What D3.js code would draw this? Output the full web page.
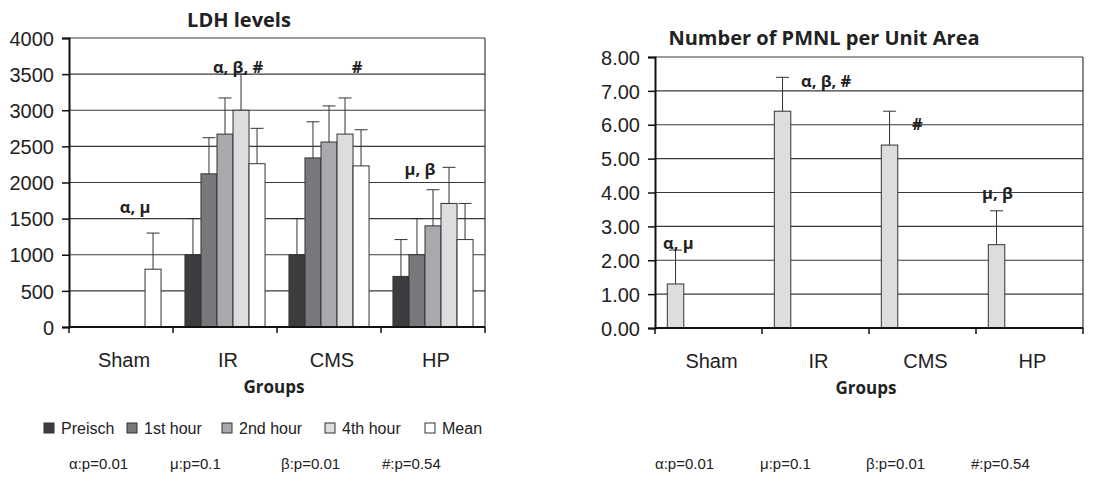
<!DOCTYPE html>
<html>
<head>
<meta charset="utf-8">
<script src="https://cdn.jsdelivr.net/npm/d3@7"></script>
<style>
  body { margin: 0; background: #fff; }
  svg text { font-family: "Liberation Sans", Arial, sans-serif; fill: #222; }
  .bold { font-family: "Open Sans", "Noto Sans", sans-serif !important; font-weight: bold; }
</style>
</head>
<body>
<svg id="chart" width="1101" height="477"></svg>
<script>
// --- Data ---
const groups = ["Sham", "IR", "CMS", "HP"];
const series = ["Preisch", "1st hour", "2nd hour", "4th hour", "Mean"];
const seriesColors = ["#3d3d3f", "#77787c", "#a8a9ac", "#dcdddf", "#ffffff"];

// LDH values per series, in group order (null = no bar)
const ldhPreisch = [null, 1000, 1000, 700];
const ldhHour1 = [null, 2120, 2340, 1000];
const ldh2ndHour = [null, 2670, 2560, 1400];
const ldh4thHour = [null, 3000, 2670, 1710];
const ldhMean = [800, 2260, 2230, 1210];
// top of error bars
const ldhPreischErr = [null, 1500, 1500, 1210];
const ldhHour1Err = [null, 2620, 2840, 1500];
const ldh2ndHourErr = [null, 3170, 3060, 1900];
const ldh4thHourErr = [null, 3500, 3170, 2210];
const ldhMeanErr = [1300, 2750, 2730, 1710];
const ldhTicks = [0, 500, 1000, 1500, 2000, 2500, 3000, 3500, 4000];
const ldhMarks = ["α, μ", "α, β, #", "#", "μ, β"];

const pmnlValues = [1.3, 6.4, 5.4, 2.46];
const pmnlErr = [2.3, 7.4, 6.4, 3.46];
const pmnlTicks = [0, 1, 2, 3, 4, 5, 6, 7, 8];
const pmnlMarks = ["α, μ", "α, β, #", "#", "μ, β"];

const footnotes = ["α:p=0.01", "μ:p=0.1", "β:p=0.01", "#:p=0.54"];

const svg = d3.select("#chart");

function drawChart({ left, right, top, bottom, yMax, ticks, fmt, title, titleX, titleY,
                     rows, marks, markPos, footX }) {
  const g = svg.append("g");
  const x = d3.scaleBand().domain(groups).range([left, right])
    .paddingInner(0.23).paddingOuter(0.115);
  const x1 = d3.scaleBand().domain(series).range([0, x.bandwidth()]);
  const y = d3.scaleLinear().domain([0, yMax]).range([bottom, top]);
  const step = (right - left) / groups.length;

  // gridlines
  g.selectAll("line.grid").data(ticks.slice(1)).join("line")
    .attr("x1", left).attr("x2", right)
    .attr("y1", d => y(d)).attr("y2", d => y(d))
    .attr("stroke", "#3a3a3a").attr("stroke-width", 1.2);
  // right border
  g.append("line").attr("x1", right).attr("x2", right).attr("y1", top).attr("y2", bottom)
    .attr("stroke", "#3a3a3a").attr("stroke-width", 1.2);

  // bars
  rows.forEach(r => {
    const cells = groups.map((grp, i) => ({ grp, v: r.values[i], e: r.err[i] }))
      .filter(d => d.v != null);
    g.selectAll(null).data(cells).join("rect")
      .attr("x", d => x(d.grp) + x1(r.slot))
      .attr("y", d => y(d.v))
      .attr("width", x1.bandwidth())
      .attr("height", d => bottom - y(d.v))
      .attr("fill", r.color).attr("stroke", "#333").attr("stroke-width", 1);
    const cx = d => x(d.grp) + x1(r.slot) + x1.bandwidth() / 2;
    g.selectAll(null).data(cells).join("line")
      .attr("x1", cx).attr("x2", cx)
      .attr("y1", d => y(d.v)).attr("y2", d => y(d.e))
      .attr("stroke", "#333").attr("stroke-width", 1);
    g.selectAll(null).data(cells).join("line")
      .attr("x1", d => cx(d) - 6.5).attr("x2", d => cx(d) + 6.5)
      .attr("y1", d => y(d.e)).attr("y2", d => y(d.e))
      .attr("stroke", "#333").attr("stroke-width", 1);
  });

  // y axis
  const yAxis = g.append("g").attr("transform", `translate(${left},0)`)
    .call(d3.axisLeft(y).tickValues(ticks).tickFormat(fmt).tickSize(7).tickPadding(8));
  yAxis.select(".domain").attr("stroke", "#111").attr("stroke-width", 2);
  yAxis.selectAll(".tick line").attr("stroke", "#111").attr("stroke-width", 1.5);
  yAxis.selectAll(".tick text").attr("font-size", 20).attr("fill", "#222").attr("dy", "0.36em");

  // x axis
  g.append("line").attr("x1", left).attr("x2", right).attr("y1", bottom).attr("y2", bottom)
    .attr("stroke", "#111").attr("stroke-width", 2);
  g.selectAll("line.xt").data(d3.range(groups.length + 1)).join("line")
    .attr("x1", i => left + i * step).attr("x2", i => left + i * step)
    .attr("y1", bottom).attr("y2", bottom + 6)
    .attr("stroke", "#111").attr("stroke-width", 1.5);
  g.selectAll("text.cat").data(groups).join("text")
    .attr("x", d => x(d) + x.bandwidth() / 2 + 3).attr("y", bottom + 40)
    .attr("text-anchor", "middle").attr("font-size", 20).text(d => d);
  g.append("text").attr("class", "bold").attr("x", (left + right) / 2 - 3).attr("y", bottom + 66)
    .attr("text-anchor", "middle").attr("font-size", 17).text("Groups");

  // title
  g.append("text").attr("class", "bold").attr("x", titleX).attr("y", titleY)
    .attr("text-anchor", "middle").attr("font-size", 20).text(title);

  // significance marks
  g.selectAll("text.mark").data(marks).join("text").attr("class", "bold")
    .attr("x", (d, i) => markPos[i][0]).attr("y", (d, i) => markPos[i][1])
    .attr("text-anchor", (d, i) => markPos[i][2])
    .attr("font-size", 16.5).text(d => d);

  // footnotes
  g.selectAll("text.foot").data(footnotes).join("text")
    .attr("x", (d, i) => footX[i]).attr("y", 469)
    .attr("font-size", 15).text(d => d);
}

// Left: LDH levels
drawChart({
  left: 69, right: 485, top: 38, bottom: 327, yMax: 4000, ticks: ldhTicks,
  fmt: d3.format("d"), title: "LDH levels", titleX: 239, titleY: 27,
  rows: [
    { slot: series[0], color: seriesColors[0], values: ldhPreisch, err: ldhPreischErr },
    { slot: series[1], color: seriesColors[1], values: ldhHour1, err: ldhHour1Err },
    { slot: series[2], color: seriesColors[2], values: ldh2ndHour, err: ldh2ndHourErr },
    { slot: series[3], color: seriesColors[3], values: ldh4thHour, err: ldh4thHourErr },
    { slot: series[4], color: seriesColors[4], values: ldhMean, err: ldhMeanErr },
  ],
  marks: ldhMarks,
  markPos: [[135, 213, "middle"], [238, 73, "middle"], [357, 73, "middle"], [420, 175, "middle"]],
  footX: [69, 170, 281, 382],
});

// Right: PMNL
drawChart({
  left: 655, right: 1083, top: 57, bottom: 328, yMax: 8, ticks: pmnlTicks,
  fmt: d3.format(".2f"), title: "Number of PMNL per Unit Area", titleX: 824, titleY: 45,
  rows: [
    { slot: series[0], color: seriesColors[3], values: pmnlValues, err: pmnlErr },
  ],
  marks: pmnlMarks,
  markPos: [[663, 249, "start"], [801, 87, "start"], [912, 130, "start"], [982, 199, "start"]],
  footX: [655, 760, 866, 971],
});

// legend (left chart)
const legendX = [44, 127, 222, 325, 425];
const legend = svg.append("g");
series.forEach((s, i) => {
  legend.append("rect").attr("x", legendX[i]).attr("y", 423).attr("width", 10).attr("height", 10)
    .attr("fill", seriesColors[i]).attr("stroke", "#333").attr("stroke-width", 1);
  legend.append("text").attr("x", legendX[i] + 17).attr("y", 434)
    .attr("font-size", 16).text(s);
});
</script>
</body>
</html>
